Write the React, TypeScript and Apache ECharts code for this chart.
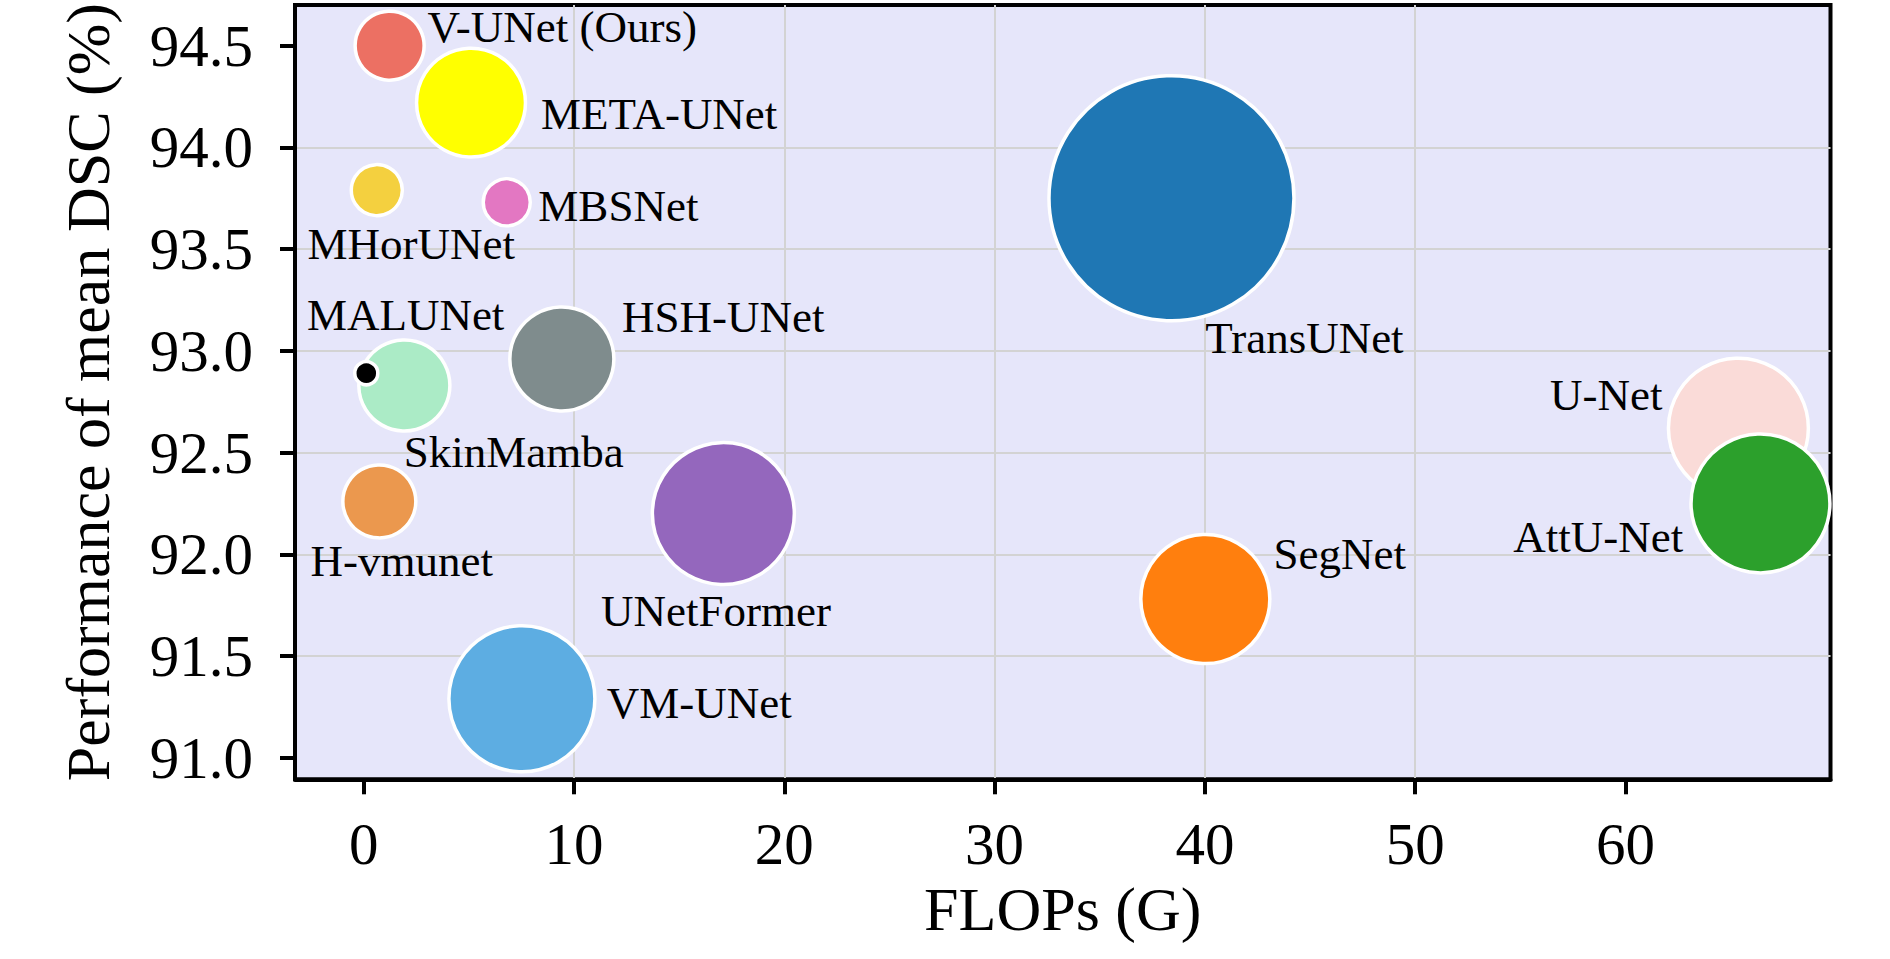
import React, { useEffect, useRef } from 'react';
import * as echarts from 'echarts';

// ---- data ----
const models = [
  'TransUNet', 'U-Net', 'AttU-Net', 'SegNet', 'UNetFormer', 'VM-UNet', 'HSH-UNet',
  'SkinMamba', 'MALUNet', 'H-vmunet', 'MHorUNet', 'MBSNet', 'META-UNet', 'V-UNet (Ours)',
];
const flops = [38.41, 65.37, 66.42, 40.02, 17.1, 7.52, 9.42, 1.93, 0.12, 0.74, 0.62, 6.8, 5.1, 1.23];
const dsc = [93.75, 92.62, 92.25, 91.78, 92.2, 91.29, 92.96, 92.83, 92.89, 92.26, 93.79, 93.73, 94.22, 94.5];
const params = [104.2, 34.0, 33.5, 28.9, 35.0, 37.0, 18.8, 14.4, 0.92, 9.25, 4.52, 3.84, 20.6, 8.27];
const xTicks = [0, 10, 20, 30, 40, 50, 60];
const yTicks = [91.0, 91.5, 92.0, 92.5, 93.0, 93.5, 94.0, 94.5];

// ---- styles ----
const colors = [
  '#1F77B4', '#FADBD8', '#2CA02C', '#FF7F0E', '#9467BD', '#5DADE2', '#7F8C8D',
  '#ABEBC6', '#000000', '#EB984E', '#F4D03F', '#E377C2', '#FFFF00', '#EC7063',
];
// label offset from bubble centre (px) and horizontal alignment
const labelPlace: [number, number, string][] = [
  [33.8, 140.2, 'left'],
  [-76, -33.2, 'right'],
  [-77.2, 33.9, 'right'],
  [68.1, -44.8, 'left'],
  [-122.3, 96.9, 'left'],
  [84.9, 3.9, 'left'],
  [60.2, -42.1, 'left'],
  [-0.7, 66.7, 'left'],
  [-59.4, -58.1, 'left'],
  [-68.9, 60.1, 'left'],
  [-69.3, 53.9, 'left'],
  [31.6, 3.5, 'left'],
  [70, 11.2, 'left'],
  [37.8, -18.2, 'left'],
];

const FONT = "'Liberation Serif', 'Times New Roman', serif";

export default function App() {
  const ref = useRef<HTMLDivElement>(null);
  useEffect(() => {
    document.body.style.margin = '0';
    document.body.style.overflow = 'hidden';
    if (!ref.current) return;
    const chart = echarts.init(ref.current, undefined, { renderer: 'svg' });
    const data = models.map((name, i) => ({
      name,
      value: [flops[i], dsc[i], params[i]],
      itemStyle: { color: colors[i] },
      label: { offset: [labelPlace[i][0], labelPlace[i][1]], align: labelPlace[i][2] },
    }));
    chart.setOption({
      animation: false,
      grid: {
        left: 295,
        top: 5,
        right: 59.5,
        bottom: 179.7,
        show: true,
        backgroundColor: '#E6E6FA',
        borderColor: '#000',
        borderWidth: 4,
        containLabel: false,
      },
      xAxis: {
        type: 'value',
        min: -3.27,
        max: 69.75,
        splitNumber: 7,
        name: 'FLOPs (G)',
        nameLocation: 'middle',
        nameGap: 106.5,
        nameTextStyle: { fontSize: 62, fontFamily: FONT, color: '#000', verticalAlign: 'middle' },
        axisLine: { show: true, onZero: false, lineStyle: { color: '#000', width: 4 } },
        axisTick: { show: true, customValues: xTicks, length: 15, lineStyle: { color: '#000', width: 4 } },
        axisLabel: {
          customValues: xTicks,
          fontSize: 59,
          fontFamily: FONT,
          color: '#000',
          margin: 35,
        },
        splitLine: { show: true, showMinLine: false, showMaxLine: false, lineStyle: { color: '#D3D3D3', width: 2 } },
      },
      yAxis: {
        type: 'value',
        min: 90.894,
        max: 94.7,
        splitNumber: 8,
        name: 'Performance of mean DSC (%)',
        nameLocation: 'middle',
        nameGap: 207,
        nameRotate: 90,
        nameTextStyle: { fontSize: 62, fontFamily: FONT, color: '#000', verticalAlign: 'middle' },
        axisLine: { show: true, onZero: false, lineStyle: { color: '#000', width: 4 } },
        axisTick: { show: true, customValues: yTicks, length: 15, lineStyle: { color: '#000', width: 4 } },
        axisLabel: {
          customValues: yTicks,
          fontSize: 59,
          fontFamily: FONT,
          color: '#000',
          margin: 42,
          formatter: (v: number) => v.toFixed(1),
        },
        splitLine: { show: true, showMinLine: false, showMaxLine: false, lineStyle: { color: '#D3D3D3', width: 2 } },
      },
      series: [
        {
          type: 'scatter',
          data,
          symbol: 'circle',
          symbolSize: (v: number[]) => 24 * Math.sqrt(v[2]),
          itemStyle: { borderColor: '#FFFFFF', borderWidth: 3.5, opacity: 1 },
          label: {
            show: true,
            position: 'inside',
            verticalAlign: 'middle',
            formatter: '{b}',
            fontSize: 45,
            fontFamily: FONT,
            color: '#000',
          },
          emphasis: { disabled: true },
          clip: false,
        },
      ],
    });
    return () => chart.dispose();
  }, []);
  return <div ref={ref} style={{ width: 1890, height: 959 }} />;
}
